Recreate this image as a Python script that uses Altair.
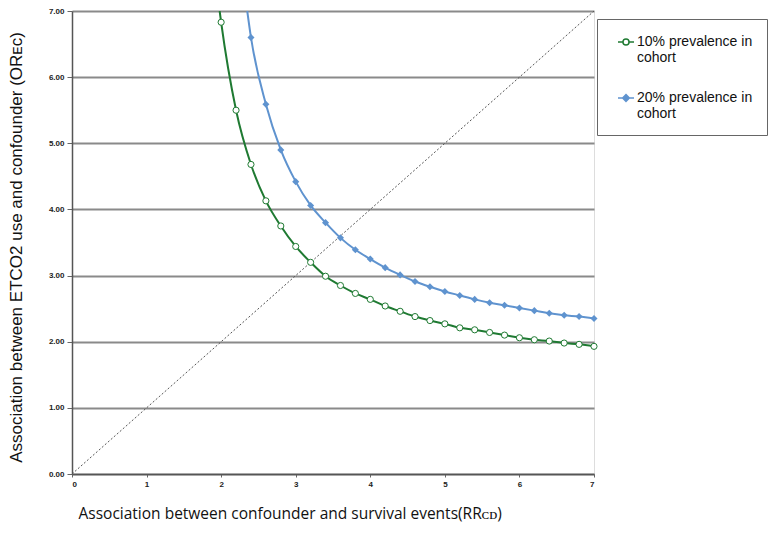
import altair as alt
import pandas as pd

# ---- data ----
series = ["10% prevalence in cohort", "20% prevalence in cohort"]

green_x = [2.0, 2.2, 2.4, 2.6, 2.8, 3.0, 3.2, 3.4, 3.6, 3.8, 4.0, 4.2, 4.4, 4.6, 4.8,
           5.0, 5.2, 5.4, 5.6, 5.8, 6.0, 6.2, 6.4, 6.6, 6.8, 7.0]
green_y = [6.83, 5.50, 4.68, 4.13, 3.75, 3.44, 3.20, 2.99, 2.85, 2.73, 2.64, 2.54, 2.46,
           2.38, 2.32, 2.27, 2.21, 2.18, 2.14, 2.10, 2.06, 2.03, 2.01, 1.98, 1.96, 1.93]

blue_x = [2.4, 2.6, 2.8, 3.0, 3.2, 3.4, 3.6, 3.8, 4.0, 4.2, 4.4, 4.6, 4.8, 5.0, 5.2,
          5.4, 5.6, 5.8, 6.0, 6.2, 6.4, 6.6, 6.8, 7.0]
blue_y = [6.60, 5.59, 4.90, 4.42, 4.06, 3.80, 3.57, 3.39, 3.25, 3.12, 3.01, 2.91, 2.83,
          2.76, 2.70, 2.64, 2.59, 2.55, 2.51, 2.47, 2.43, 2.40, 2.38, 2.35]

# where each curve leaves the top of the plot
green_top = (1.98, 7.0)
blue_top = (2.35, 7.0)

diag_x = [0, 7]
diag_y = [0, 7]

y_ticks = [0, 1, 2, 3, 4, 5, 6, 7]
x_ticks = [0, 1, 2, 3, 4, 5, 6, 7]

GREEN = "#1f7a32"
BLUE = "#5f93cf"

pts = pd.DataFrame(
    {"x": green_x + blue_x,
     "y": green_y + blue_y,
     "s": [series[0]] * len(green_x) + [series[1]] * len(blue_x)}
)
lines = pd.DataFrame(
    {"x": [green_top[0]] + green_x + [blue_top[0]] + blue_x,
     "y": [green_top[1]] + green_y + [blue_top[1]] + blue_y,
     "s": [series[0]] * (len(green_x) + 1) + [series[1]] * (len(blue_x) + 1)}
)
diag = pd.DataFrame({"x": diag_x, "y": diag_y})
leg = pd.DataFrame({"s": series})

xs = alt.Scale(domain=[0, 7], nice=False, zero=False)
ys = alt.Scale(domain=[0, 7], nice=False, zero=False)

x_axis = alt.Axis(
    values=x_ticks, format="d", grid=False,
    title="Association between confounder and survival events(RRᴄᴅ)",
    titleFont="Open Sans", titleFontSize=15.5, titleFontWeight="normal", titleColor="#111",
    titleAlign="left", titleX=6, titleY=39, titleBaseline="middle",
    labelFont="Liberation Sans", labelFontSize=8, labelFontWeight="bold", labelColor="#222",
    labelPadding=3, tickSize=3, tickColor="#666", domainColor="#555", domainWidth=1.5,
)
y_axis = alt.Axis(
    values=y_ticks, format=".2f", grid=True, gridColor="#8a8a8a", gridWidth=2,
    title="Association between ETCO2 use and confounder (ORᴇᴄ)",
    titleFont="Liberation Sans", titleFontSize=17, titleFontWeight="normal", titleColor="#111",
    titleX=-56, titleY=236, titleAngle=-90, titleAlign="center", titleBaseline="middle",
    labelFont="Liberation Sans", labelFontSize=8, labelFontWeight="bold", labelColor="#222",
    labelPadding=3, tickSize=5, tickColor="#666", domainColor="#555", domainWidth=1.5,
)

base_x = alt.X("x:Q", scale=xs, axis=x_axis)
base_y = alt.Y("y:Q", scale=ys, axis=y_axis)

diag_layer = alt.Chart(diag).mark_line(
    color="#555", strokeDash=[2, 2], strokeWidth=1
).encode(x=base_x, y=base_y)

line_layer = alt.Chart(lines).mark_line(
    interpolate="monotone", strokeWidth=2, clip=True
).encode(
    x=alt.X("x:Q", scale=xs),
    y=alt.Y("y:Q", scale=ys),
    color=alt.Color("s:N", scale=alt.Scale(domain=series, range=[GREEN, BLUE]), legend=None),
    detail="s:N",
)

green_pts = alt.Chart(pts).transform_filter(
    alt.datum.s == series[0]
).mark_point(
    shape="circle", filled=True, fill="white", stroke=GREEN, strokeWidth=1, size=38, opacity=1
).encode(x=alt.X("x:Q", scale=xs), y=alt.Y("y:Q", scale=ys))

blue_pts = alt.Chart(pts).transform_filter(
    alt.datum.s == series[1]
).mark_point(
    shape="diamond", filled=True, color=BLUE, size=50, opacity=1
).encode(x=alt.X("x:Q", scale=xs), y=alt.Y("y:Q", scale=ys))

legend = alt.Legend(
    title=None, orient="none", legendX=525, legendY=8,
    strokeColor="#666", padding=14, fillColor="white",
    labelFont="Liberation Sans", labelFontSize=14, labelColor="#111",
    labelExpr="split(replace(datum.label, ' in ', ' in|'), '|')",
    labelOffset=2, rowPadding=24, symbolSize=256, symbolStrokeWidth=1.5,
    symbolOffset=6, labelLimit=300,
)

shape_paths = [
    "M-1,0H-0.38M0.38,0H1M-0.38,0A0.38,0.38,0,1,1,0.38,0A0.38,0.38,0,1,1,-0.38,0",
    "M-1,0H1M0,-0.42L0.42,0L0,0.42L-0.42,0Z",
]

legend_layer = alt.Chart(leg).mark_point(size=256, clip=True, opacity=1).encode(
    x=alt.value(-400),
    y=alt.value(-400),
    shape=alt.Shape("s:N", scale=alt.Scale(domain=series, range=shape_paths), legend=legend),
    fill=alt.Fill("s:N", scale=alt.Scale(domain=series, range=["white", BLUE]), legend=legend),
    stroke=alt.Stroke("s:N", scale=alt.Scale(domain=series, range=[GREEN, BLUE]), legend=legend),
)

chart = alt.layer(
    diag_layer, line_layer, green_pts, blue_pts, legend_layer
).resolve_scale(
    color="independent"
).properties(
    width=522, height=463,
    autosize=alt.AutoSizeParams(type="none"),
    padding={"left": 64, "top": 3, "right": 175, "bottom": 53},
).configure_view(stroke=None).configure(background="white")

chart.save("out.html", embed_options={"renderer": "svg", "actions": False})
